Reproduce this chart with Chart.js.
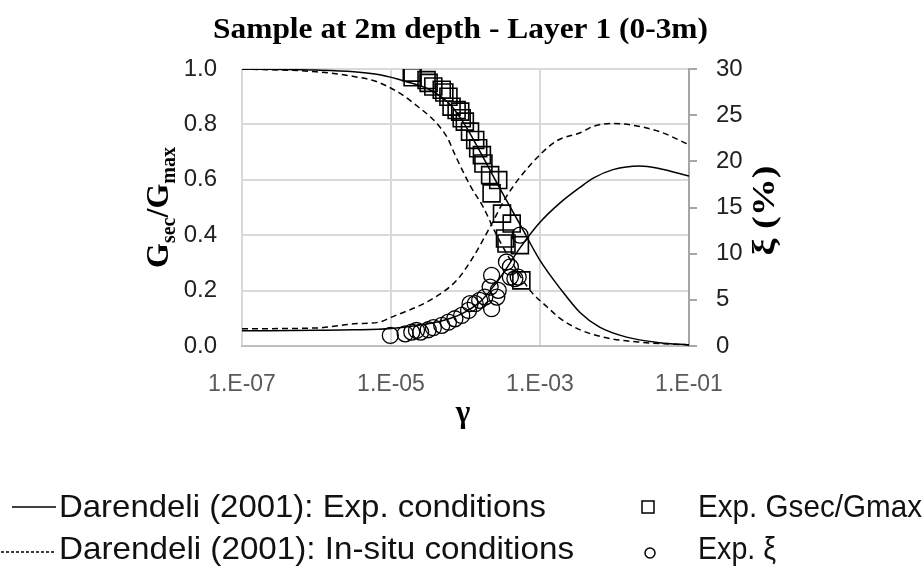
<!DOCTYPE html>
<html>
<head>
<meta charset="utf-8">
<script src="https://cdn.jsdelivr.net/npm/chart.js@4.4.0/dist/chart.umd.min.js"></script>
<style>
  html, body { margin: 0; padding: 0; background: #fff; }
  #wrap { width: 924px; height: 587px; }
</style>
</head>
<body>
<div id="wrap"><canvas id="chart" width="924" height="587"></canvas></div>
<script>
const TITLE = 'Sample at 2m depth - Layer 1 (0-3m)';
const X_TICKS = [1e-7, 1e-5, 1e-3, 1e-1];

// Darendeli (2001), experimental conditions
const expCurveStrainG = [1e-7, 1e-6, 3.16e-6, 7.08e-6, 1.58e-5, 3.31e-5, 6.31e-5, 1e-4, 1.51e-4, 2.88e-4, 5.37e-4, 1e-3, 1.86e-3, 3.47e-3, 6.31e-3, 1.45e-2, 4.07e-2, 1e-1];
const expCurveG = [1.0, 0.996, 0.99, 0.979, 0.955, 0.925, 0.87, 0.795, 0.71, 0.57, 0.44, 0.309, 0.208, 0.12, 0.068, 0.032, 0.012, 0.004];
const expCurveStrainD = [1e-7, 1e-6, 3.16e-6, 1e-5, 3.16e-5, 6.31e-5, 1e-4, 1.58e-4, 2.14e-4, 3.16e-4, 5.37e-4, 1e-3, 1.86e-3, 3.47e-3, 5.25e-3, 9.55e-3, 2.19e-2, 4.07e-2, 1e-1];
const expCurveD = [1.65, 1.7, 1.75, 1.9, 2.4, 3.0, 3.7, 4.8, 6.0, 7.8, 10.6, 13.4, 15.5, 17.2, 18.2, 19.1, 19.5, 19.2, 18.4];

// Darendeli (2001), in-situ conditions
const insituCurveStrainG = [1e-7, 1e-6, 3.16e-6, 7.08e-6, 2e-5, 5.62e-5, 7.24e-5, 1.15e-4, 1.74e-4, 2.51e-4, 3.55e-4, 7.41e-4, 1.26e-3, 1.86e-3, 3.47e-3, 8.71e-3, 2.4e-2, 1e-1];
const insituCurveG = [1.0, 0.99, 0.973, 0.95, 0.877, 0.755, 0.69, 0.58, 0.50, 0.41, 0.335, 0.20, 0.14, 0.10, 0.058, 0.027, 0.013, 0.004];
const insituCurveStrainD = [1e-7, 1e-6, 3.16e-6, 7.08e-6, 1e-5, 3.31e-5, 7.59e-5, 1.26e-4, 2.14e-4, 3.55e-4, 7.41e-4, 1.66e-3, 3.47e-3, 5.25e-3, 9.55e-3, 1.78e-2, 4.07e-2, 1e-1];
const insituCurveD = [1.87, 1.95, 2.4, 2.6, 3.1, 4.94, 7.1, 9.6, 12.9, 16.2, 19.6, 22.2, 23.1, 23.8, 24.1, 23.9, 23.2, 21.8];

// experimental points
const testStrainG = [1.9e-5, 1.95e-5, 3.0e-5, 3.2e-5, 3.7e-5, 4.8e-5, 5.2e-5, 5.9e-5, 6.5e-5, 7.6e-5, 8.5e-5, 8.9e-5, 9.8e-5, 1.15e-4, 1.35e-4, 1.48e-4, 1.66e-4, 1.74e-4, 2.14e-4, 2.75e-4, 2.24e-4, 3.09e-4, 4.17e-4, 3.39e-4, 3.55e-4, 5.37e-4, 5.62e-4];
const testG = [0.987, 0.970, 0.960, 0.950, 0.937, 0.925, 0.915, 0.900, 0.864, 0.852, 0.846, 0.822, 0.810, 0.774, 0.744, 0.714, 0.689, 0.659, 0.617, 0.599, 0.551, 0.478, 0.442, 0.388, 0.370, 0.364, 0.237];
const testStrainD = [9.8e-6, 1.55e-5, 1.9e-5, 2.2e-5, 2.5e-5, 3.16e-5, 3.7e-5, 4.8e-5, 5.9e-5, 7.2e-5, 8.9e-5, 1.1e-4, 1.15e-4, 1.35e-4, 1.55e-4, 1.82e-4, 2.24e-4, 2.63e-4, 2.75e-4, 2.14e-4, 2.24e-4, 3.55e-4, 4.0e-4, 4.0e-4, 4.6e-4, 5.1e-4, 5.4e-4];
const testD = [1.14, 1.32, 1.50, 1.68, 1.50, 1.76, 1.98, 2.23, 2.58, 2.95, 3.31, 3.85, 4.58, 4.58, 4.94, 5.30, 4.04, 5.30, 6.03, 6.38, 7.65, 9.1, 8.56, 7.47, 7.3, 7.47, 12.0];

const LEGEND = [
  'Darendeli (2001): Exp. conditions',
  'Darendeli (2001): In-situ conditions',
  'Exp. Gsec/Gmax',
  'Exp. ξ'
];

const toPoints = (xs, ys) => xs.map((x, i) => ({ x: x, y: ys[i] }));

// squeeze text horizontally to the width it has in the picture
function fitText(ctx, text, x, y, width) {
  const w = ctx.measureText(text).width;
  ctx.save();
  ctx.translate(x, y);
  ctx.scale(width / w, 1);
  ctx.fillText(text, 0, 0);
  ctx.restore();
}

const decorPlugin = {
  id: 'decor',
  afterDraw(chart) {
    const ctx = chart.ctx;
    const area = chart.chartArea;
    ctx.save();
    ctx.fillStyle = '#000';
    ctx.textBaseline = 'middle';
    ctx.textAlign = 'left';

    ctx.font = 'bold 30px "Liberation Serif"';
    fitText(ctx, TITLE, 213, 30, 495);
    ctx.textAlign = 'center';
    ctx.font = 'bold 31px "Liberation Serif"';
    ctx.fillText('γ', 463, 414);

    // left axis title G_sec/G_max
    ctx.save();
    ctx.translate(168, (area.top + area.bottom) / 2);
    ctx.rotate(-Math.PI / 2);
    ctx.textAlign = 'left';
    ctx.textBaseline = 'alphabetic';
    const parts = [['G', 32, 0], ['sec', 20, 7], ['/G', 32, 0], ['max', 20, 7]];
    let total = 0;
    parts.forEach(p => { ctx.font = 'bold ' + p[1] + 'px "Liberation Serif"'; total += ctx.measureText(p[0]).width; });
    let px = -total / 2;
    parts.forEach(p => {
      ctx.font = 'bold ' + p[1] + 'px "Liberation Serif"';
      ctx.fillText(p[0], px, p[2]);
      px += ctx.measureText(p[0]).width;
    });
    ctx.restore();

    // right axis title
    ctx.save();
    ctx.translate(774, (area.top + area.bottom) / 2 + 3);
    ctx.rotate(-Math.PI / 2);
    ctx.textAlign = 'left';
    ctx.textBaseline = 'alphabetic';
    ctx.font = 'bold 32px "Liberation Serif"';
    fitText(ctx, 'ξ (%)', -45, 0, 90);
    ctx.restore();

    // legend
    ctx.strokeStyle = '#000';
    ctx.lineWidth = 1.5;
    ctx.beginPath();
    ctx.moveTo(12, 507); ctx.lineTo(56, 507);
    ctx.stroke();
    ctx.setLineDash([3, 2]);
    ctx.beginPath();
    ctx.moveTo(1, 552); ctx.lineTo(56, 552);
    ctx.stroke();
    ctx.setLineDash([]);
    ctx.strokeRect(642, 501, 12, 12);
    ctx.beginPath();
    ctx.arc(650, 553, 5, 0, Math.PI * 2);
    ctx.stroke();

    ctx.textAlign = 'left';
    ctx.textBaseline = 'middle';
    ctx.font = '32px "Liberation Sans"';
    ctx.fillStyle = '#111';
    fitText(ctx, LEGEND[0], 59, 508, 487);
    fitText(ctx, LEGEND[1], 59, 550, 515);
    fitText(ctx, LEGEND[2], 698, 508, 224);
    fitText(ctx, LEGEND[3], 698, 550, 78);
    ctx.restore();
  }
};

const lineStyle = { showLine: true, borderColor: '#000', borderWidth: 1.5, pointRadius: 0, pointHoverRadius: 0, cubicInterpolationMode: 'monotone', fill: false };

new Chart(document.getElementById('chart'), {
  type: 'scatter',
  data: {
    datasets: [
      Object.assign({ label: LEGEND[0], data: toPoints(expCurveStrainG, expCurveG), yAxisID: 'yG' }, lineStyle),
      Object.assign({ label: LEGEND[0], data: toPoints(expCurveStrainD, expCurveD), yAxisID: 'yD' }, lineStyle),
      Object.assign({ label: LEGEND[1], data: toPoints(insituCurveStrainG, insituCurveG), yAxisID: 'yG', borderDash: [6, 4] }, lineStyle),
      Object.assign({ label: LEGEND[1], data: toPoints(insituCurveStrainD, insituCurveD), yAxisID: 'yD', borderDash: [6, 4] }, lineStyle),
      { label: LEGEND[2], data: toPoints(testStrainG, testG), yAxisID: 'yG', pointStyle: 'rect', pointRadius: 12, borderColor: '#000', backgroundColor: 'rgba(0,0,0,0)', borderWidth: 1.6 },
      { label: LEGEND[3], data: toPoints(testStrainD, testD), yAxisID: 'yD', pointStyle: 'circle', pointRadius: 8, borderColor: '#000', backgroundColor: 'rgba(0,0,0,0)', borderWidth: 1.3 }
    ]
  },
  options: {
    responsive: false,
    animation: false,
    devicePixelRatio: 1,
    layout: { padding: { top: 69, left: 0, right: 0, bottom: 0 } },
    plugins: { legend: { display: false }, title: { display: false }, tooltip: { enabled: false } },
    scales: {
      x: {
        type: 'logarithmic',
        min: 1e-7,
        max: 1e-1,
        afterBuildTicks(s) { s.ticks = X_TICKS.map(v => ({ value: v })); },
        afterFit(s) { s.height = 241; },
        grid: { color: '#d9d9d9', lineWidth: 2, drawTicks: false },
        border: { color: '#bfbfbf', width: 2 },
        ticks: {
          padding: 25,
          color: '#595959',
          font: { family: 'Liberation Sans', size: 23 },
          maxRotation: 0,
          callback: v => '1.E-' + String(-Math.round(Math.log10(v))).padStart(2, '0')
        }
      },
      yG: {
        position: 'left',
        min: 0,
        max: 1,
        afterFit(s) { s.width = 242; },
        grid: { color: '#d9d9d9', lineWidth: 2, drawTicks: false },
        border: { display: false },
        ticks: {
          stepSize: 0.2,
          padding: 25,
          color: '#222',
          font: { family: 'Liberation Sans', size: 24 },
          callback: v => v.toFixed(1)
        }
      },
      yD: {
        position: 'right',
        min: 0,
        max: 30,
        afterFit(s) { s.width = 235; },
        grid: { drawOnChartArea: false, drawTicks: true, tickLength: 8, color: '#a6a6a6', lineWidth: 2 },
        border: { color: '#a6a6a6', width: 2 },
        ticks: {
          stepSize: 5,
          padding: 19,
          color: '#222',
          font: { family: 'Liberation Sans', size: 24 }
        }
      }
    }
  },
  plugins: [decorPlugin]
});
</script>
</body>
</html>
